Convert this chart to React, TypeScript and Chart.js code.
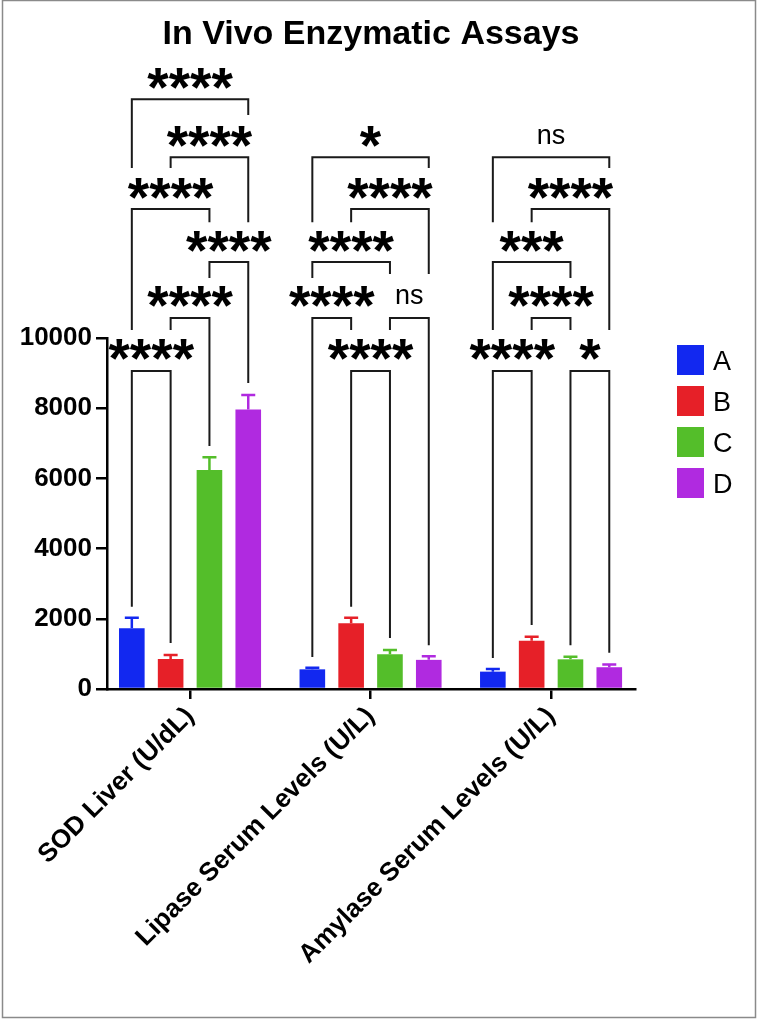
import React, { useEffect, useRef } from 'react';
import { Chart, registerables } from 'chart.js';

Chart.register(...registerables);

// ---------- data ----------
const title = 'In Vivo Enzymatic Assays';
const categories = ['SOD Liver (U/dL)', 'Lipase Serum Levels (U/L)', 'Amylase Serum Levels (U/L)'];
const groupNames = ['A', 'B', 'C', 'D'];
const valuesA = [1730, 560, 495];
const valuesB = [855, 1870, 1375];
const valuesC = [6240, 990, 845];
const valuesD = [7960, 830, 620];
const errorsA = [300, 45, 75];
const errorsB = [115, 160, 115];
const errorsC = [360, 120, 75];
const errorsD = [415, 100, 75];
const yTicks = [0, 2000, 4000, 6000, 8000, 10000];

// significance brackets: [category, fromGroup, toGroup, level, leftLegEnd, rightLegEnd, label] (data units)
const bracketsSOD = [
  [0, 0, 3, 16800, 14840, 16350, '****'],
  [0, 1, 3, 15150, 14840, 13300, '****'],
  [0, 0, 2, 13675, 10230, 13300, '****'],
  [0, 2, 3, 12165, 11710, 8720, '****'],
  [0, 1, 2, 10570, 10230, 6920, '****'],
  [0, 0, 1, 9060, 2340, 1310, '****'],
];
const bracketsLipase = [
  [1, 0, 3, 15150, 13300, 14840, '*'],
  [1, 1, 3, 13675, 13300, 11820, '****'],
  [1, 0, 2, 12165, 11710, 11820, '****'],
  [1, 0, 1, 10570, 910, 10230, '****'],
  [1, 2, 3, 10570, 10230, 1250, 'ns'],
  [1, 1, 2, 9060, 2340, 1450, '****'],
];
const bracketsAmylase = [
  [2, 0, 3, 15150, 13300, 14840, 'ns'],
  [2, 1, 3, 13675, 13300, 10230, '****'],
  [2, 0, 2, 12165, 10230, 11710, '***'],
  [2, 1, 2, 10570, 10230, 10230, '****'],
  [2, 0, 1, 9060, 880, 1820, '****'],
  [2, 2, 3, 9060, 1250, 1030, '*'],
];

// ---------- styles ----------
const colors = ['#1228F0', '#E62028', '#54BE2A', '#B02AE0'];
const FONT = '"Liberation Sans", Arial, Helvetica, sans-serif';
const W = 759;
const H = 1022;

const seriesValues = [valuesA, valuesB, valuesC, valuesD];
const seriesErrors = [errorsA, errorsB, errorsC, errorsD];
const allBrackets = [...bracketsSOD, ...bracketsLipase, ...bracketsAmylase];

function drawCenteredText(ctx: CanvasRenderingContext2D, text: string, x: number, cy: number) {
  const m = ctx.measureText(text);
  const asc = m.actualBoundingBoxAscent;
  const desc = m.actualBoundingBoxDescent;
  ctx.textAlign = 'center';
  ctx.textBaseline = 'alphabetic';
  ctx.fillText(text, x, cy + (asc - desc) / 2);
}

const overlayPlugin = {
  id: 'overlay',
  beforeDraw(chart: any) {
    const ctx = chart.ctx;
    ctx.save();
    ctx.fillStyle = '#ffffff';
    ctx.fillRect(0, 0, chart.width, chart.height);
    ctx.restore();
  },
  afterDatasetsDraw(chart: any) {
    const ctx = chart.ctx;
    const yScale = chart.scales.y;
    ctx.save();
    seriesValues.forEach((vals, di) => {
      const meta = chart.getDatasetMeta(di);
      meta.data.forEach((el: any, k: number) => {
        const top = yScale.getPixelForValue(vals[k] + seriesErrors[di][k]);
        ctx.strokeStyle = colors[di];
        ctx.lineWidth = 2.5;
        ctx.beginPath();
        ctx.moveTo(el.x, el.y);
        ctx.lineTo(el.x, top);
        ctx.moveTo(el.x - 7, top);
        ctx.lineTo(el.x + 7, top);
        ctx.stroke();
      });
    });
    ctx.restore();
  },
  afterDraw(chart: any) {
    const ctx = chart.ctx;
    const yScale = chart.scales.y;
    const area = chart.chartArea;
    ctx.save();
    // brackets
    allBrackets.forEach((b: any) => {
      const [cat, g1, g2, level, leftEnd, rightEnd, label] = b;
      const x1 = chart.getDatasetMeta(g1).data[cat].x;
      const x2 = chart.getDatasetMeta(g2).data[cat].x;
      const yl = yScale.getPixelForValue(level);
      const y1 = yScale.getPixelForValue(leftEnd);
      const y2 = yScale.getPixelForValue(rightEnd);
      ctx.strokeStyle = '#1a1a1a';
      ctx.lineWidth = 2;
      ctx.beginPath();
      ctx.moveTo(x1, y1);
      ctx.lineTo(x1, yl);
      ctx.lineTo(x2, yl);
      ctx.lineTo(x2, y2);
      ctx.stroke();
      ctx.fillStyle = '#000';
      if (label === 'ns') {
        ctx.font = `27px ${FONT}`;
      } else {
        ctx.font = `bold 55px ${FONT}`;
      }
      drawCenteredText(ctx, label, (x1 + x2) / 2, yl - 21);
    });
    // legend
    const lx = area.right + 42;
    groupNames.forEach((name, i) => {
      const top = area.top + 7 + i * 41;
      ctx.fillStyle = colors[i];
      ctx.fillRect(lx, top, 27, 30);
      ctx.fillStyle = '#000';
      ctx.font = `27px ${FONT}`;
      ctx.textAlign = 'left';
      ctx.textBaseline = 'alphabetic';
      const m = ctx.measureText(name);
      ctx.fillText(name, lx + 36, top + 15 + (m.actualBoundingBoxAscent - m.actualBoundingBoxDescent) / 2);
    });
    // title
    ctx.fillStyle = '#000';
    ctx.font = `bold 34px ${FONT}`;
    ctx.textAlign = 'center';
    ctx.textBaseline = 'alphabetic';
    ctx.fillText(title, (area.left + area.right) / 2, 44);
    // frame
    ctx.strokeStyle = '#8a8a8a';
    ctx.lineWidth = 1.5;
    ctx.strokeRect(2.5, 0.5, 753, 1017);
    ctx.restore();
  },
};

export default function App() {
  const canvasRef = useRef<HTMLCanvasElement | null>(null);

  useEffect(() => {
    if (!canvasRef.current) return;
    Chart.defaults.font.family = FONT;
    const chart = new Chart(canvasRef.current, {
      type: 'bar',
      data: {
        datasets: groupNames.map((name, i) => ({
          label: name,
          data: seriesValues[i].map((v, k) => ({ x: k, y: v })),
          backgroundColor: colors[i],
          borderWidth: 0,
          categoryPercentage: 0.86,
          barPercentage: 0.66,
        })),
      },
      options: {
        responsive: false,
        animation: false,
        devicePixelRatio: 1,
        layout: { padding: { top: 338, right: 124, bottom: 0, left: 0 } },
        plugins: {
          legend: { display: false },
          title: { display: false },
          tooltip: { enabled: false },
        },
        scales: {
          x: {
            type: 'linear',
            min: -0.46,
            max: 2.465,
            offset: false,
            afterBuildTicks: (s: any) => {
              s.ticks = categories.map((_, k) => ({ value: k }));
            },
            afterFit: (s: any) => {
              s.height = H - 689;
            },
            ticks: {
              autoSkip: false,
              minRotation: 45,
              maxRotation: 45,
              padding: 2,
              color: '#000',
              font: { size: 26, weight: 'bold' },
              callback: (v: any) => categories[v] ?? '',
            },
            grid: {
              offset: false,
              drawOnChartArea: false,
              drawTicks: true,
              tickLength: 10,
              color: '#000',
              lineWidth: 2.5,
            },
            border: { display: true, color: '#000', width: 2.5 },
          },
          y: {
            type: 'linear',
            min: 0,
            max: 10000,
            afterBuildTicks: (s: any) => {
              s.ticks = yTicks.map((v) => ({ value: v }));
            },
            afterFit: (s: any) => {
              s.width = 107;
            },
            ticks: {
              padding: 4,
              color: '#000',
              font: { size: 26, weight: 'bold' },
              callback: (v: any) => String(v),
            },
            grid: {
              drawOnChartArea: false,
              drawTicks: true,
              tickLength: 11,
              color: '#000',
              lineWidth: 2.5,
            },
            border: { display: true, color: '#000', width: 2.5 },
          },
        },
      } as any,
      plugins: [overlayPlugin],
    });
    return () => chart.destroy();
  }, []);

  return (
    <div style={{ position: 'absolute', left: 0, top: 0, width: W, height: H, background: '#fff' }}>
      <canvas ref={canvasRef} width={W} height={H} style={{ display: 'block', width: W, height: H }} />
    </div>
  );
}
